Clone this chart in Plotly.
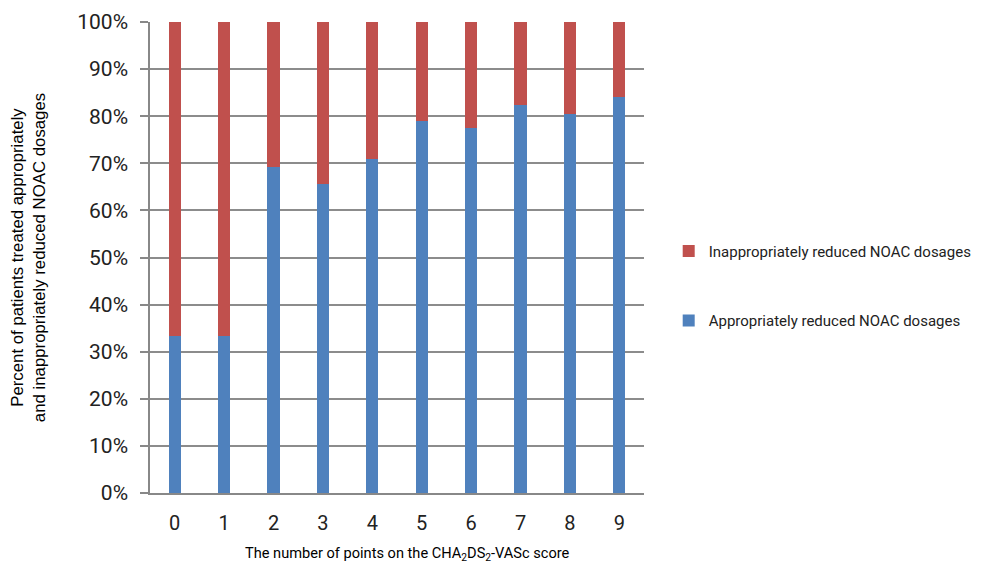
import plotly.graph_objects as go

categories = ["0", "1", "2", "3", "4", "5", "6", "7", "8", "9"]
appropriate = [33.3, 33.3, 69.2, 65.6, 70.9, 79.0, 77.6, 82.4, 80.5, 84.0]
inappropriate = [round(100 - v, 1) for v in appropriate]

fig = go.Figure()
fig.add_trace(go.Bar(x=categories, y=appropriate, name="Appropriately reduced NOAC dosages",
                     marker=dict(color="#4F81BD", line=dict(width=0)), width=0.245,
                     legendgroup="a", legendrank=2))
fig.add_trace(go.Bar(x=categories, y=inappropriate, name="Inappropriately reduced NOAC dosages",
                     marker=dict(color="#C0504D", line=dict(width=0)), width=0.245,
                     legendgroup="b", legendrank=1))

narrow = "Roboto, sans-serif"
fig.update_layout(
    barmode="stack",
    width=982, height=565,
    margin=dict(l=142, r=346, t=14, b=80),
    plot_bgcolor="white", paper_bgcolor="white",
    showlegend=True,
    legend=dict(x=1.05, y=0.44, xanchor="left", yanchor="middle",
                traceorder="grouped", tracegroupgap=47,
                font=dict(family=narrow, size=15, color="#222"),
                itemwidth=30),
    xaxis=dict(showline=True, linecolor="#888", linewidth=1.5, ticks="", automargin=False,
               tickfont=dict(family=narrow, size=20, color="#222"),
               ticklabelstandoff=11),
    yaxis=dict(range=[0, 100], dtick=10, ticksuffix="%", showline=True, linecolor="#888",
               linewidth=1.5, ticks="outside", ticklen=8, tickcolor="#888", tickwidth=1.5,
               showgrid=True, gridcolor="#8c8c8c", gridwidth=1.5, automargin=False,
               tickfont=dict(family=narrow, size=21, color="#222"),
               ticklabelstandoff=8,
               title=dict(text="Percent of patients treated appropriately<br>and inappropriately reduced NOAC dosages",
                          font=dict(family="Liberation Sans, Arial, sans-serif", size=16.8, color="#000"),
                          standoff=35)),
    annotations=[dict(text="The number of points on the CHA<sub>2</sub>DS<sub>2</sub>-VASc score",
                      xref="paper", yref="paper", x=0.521, y=-0.1274,
                      xanchor="center", yanchor="middle", showarrow=False,
                      font=dict(family=narrow, size=14.6, color="#000"))],
)

fig.write_html("out.html")
